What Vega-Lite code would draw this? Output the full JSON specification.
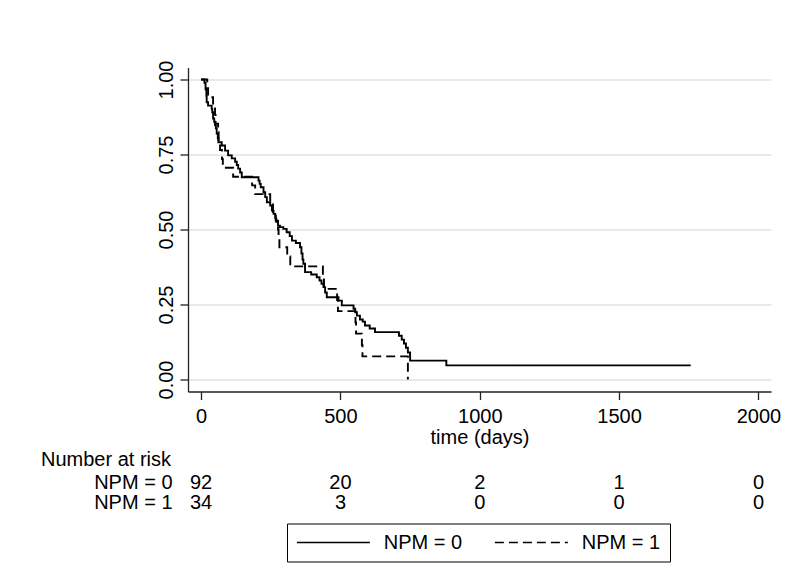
{
  "$schema": "https://vega.github.io/schema/vega-lite/v6.json",
  "background": "white",
  "padding": {"left": 41, "top": 59.5, "right": 5, "bottom": 5},
  "config": {
    "font": "Liberation Sans",
    "view": {"stroke": null},
    "axis": {"labelFont": "Liberation Sans", "titleFont": "Liberation Sans", "labelColor": "black", "titleColor": "black"}
  },
  "datasets": {
    "km": [
      {"group": "NPM = 0", "day": 0, "surv": 1.0},
      {"group": "NPM = 0", "day": 12, "surv": 0.989},
      {"group": "NPM = 0", "day": 16, "surv": 0.967},
      {"group": "NPM = 0", "day": 19, "surv": 0.946},
      {"group": "NPM = 0", "day": 20, "surv": 0.924},
      {"group": "NPM = 0", "day": 25, "surv": 0.913},
      {"group": "NPM = 0", "day": 38, "surv": 0.902},
      {"group": "NPM = 0", "day": 40, "surv": 0.891},
      {"group": "NPM = 0", "day": 43, "surv": 0.870},
      {"group": "NPM = 0", "day": 47, "surv": 0.859},
      {"group": "NPM = 0", "day": 50, "surv": 0.848},
      {"group": "NPM = 0", "day": 53, "surv": 0.837},
      {"group": "NPM = 0", "day": 56, "surv": 0.820},
      {"group": "NPM = 0", "day": 60, "surv": 0.804},
      {"group": "NPM = 0", "day": 62, "surv": 0.791},
      {"group": "NPM = 0", "day": 74, "surv": 0.780},
      {"group": "NPM = 0", "day": 86, "surv": 0.763},
      {"group": "NPM = 0", "day": 97, "surv": 0.747},
      {"group": "NPM = 0", "day": 110, "surv": 0.737},
      {"group": "NPM = 0", "day": 122, "surv": 0.726},
      {"group": "NPM = 0", "day": 128, "surv": 0.715},
      {"group": "NPM = 0", "day": 133, "surv": 0.703},
      {"group": "NPM = 0", "day": 140, "surv": 0.690},
      {"group": "NPM = 0", "day": 146, "surv": 0.674},
      {"group": "NPM = 0", "day": 206, "surv": 0.663},
      {"group": "NPM = 0", "day": 210, "surv": 0.652},
      {"group": "NPM = 0", "day": 214, "surv": 0.641},
      {"group": "NPM = 0", "day": 224, "surv": 0.624},
      {"group": "NPM = 0", "day": 230, "surv": 0.608},
      {"group": "NPM = 0", "day": 236, "surv": 0.591},
      {"group": "NPM = 0", "day": 248, "surv": 0.580},
      {"group": "NPM = 0", "day": 254, "surv": 0.563},
      {"group": "NPM = 0", "day": 260, "surv": 0.552},
      {"group": "NPM = 0", "day": 266, "surv": 0.537},
      {"group": "NPM = 0", "day": 270, "surv": 0.526},
      {"group": "NPM = 0", "day": 276, "surv": 0.513},
      {"group": "NPM = 0", "day": 283, "surv": 0.508},
      {"group": "NPM = 0", "day": 295, "surv": 0.502},
      {"group": "NPM = 0", "day": 307, "surv": 0.491},
      {"group": "NPM = 0", "day": 318, "surv": 0.478},
      {"group": "NPM = 0", "day": 326, "surv": 0.463},
      {"group": "NPM = 0", "day": 340, "surv": 0.455},
      {"group": "NPM = 0", "day": 355, "surv": 0.441},
      {"group": "NPM = 0", "day": 360, "surv": 0.420},
      {"group": "NPM = 0", "day": 364, "surv": 0.400},
      {"group": "NPM = 0", "day": 367, "surv": 0.386},
      {"group": "NPM = 0", "day": 373, "surv": 0.358},
      {"group": "NPM = 0", "day": 395, "surv": 0.350},
      {"group": "NPM = 0", "day": 415, "surv": 0.341},
      {"group": "NPM = 0", "day": 425, "surv": 0.330},
      {"group": "NPM = 0", "day": 432, "surv": 0.319},
      {"group": "NPM = 0", "day": 439, "surv": 0.308},
      {"group": "NPM = 0", "day": 445, "surv": 0.290},
      {"group": "NPM = 0", "day": 451, "surv": 0.274},
      {"group": "NPM = 0", "day": 493, "surv": 0.263},
      {"group": "NPM = 0", "day": 505, "surv": 0.247},
      {"group": "NPM = 0", "day": 547, "surv": 0.236},
      {"group": "NPM = 0", "day": 553, "surv": 0.224},
      {"group": "NPM = 0", "day": 559, "surv": 0.213},
      {"group": "NPM = 0", "day": 570, "surv": 0.200},
      {"group": "NPM = 0", "day": 580, "surv": 0.193},
      {"group": "NPM = 0", "day": 588, "surv": 0.180},
      {"group": "NPM = 0", "day": 605, "surv": 0.170},
      {"group": "NPM = 0", "day": 624, "surv": 0.158},
      {"group": "NPM = 0", "day": 710, "surv": 0.146},
      {"group": "NPM = 0", "day": 720, "surv": 0.133},
      {"group": "NPM = 0", "day": 728, "surv": 0.120},
      {"group": "NPM = 0", "day": 735, "surv": 0.106},
      {"group": "NPM = 0", "day": 742, "surv": 0.090},
      {"group": "NPM = 0", "day": 750, "surv": 0.063},
      {"group": "NPM = 0", "day": 880, "surv": 0.047},
      {"group": "NPM = 0", "day": 1757, "surv": 0.047},
      {"group": "NPM = 1", "day": 0, "surv": 1.0},
      {"group": "NPM = 1", "day": 22, "surv": 0.971},
      {"group": "NPM = 1", "day": 25, "surv": 0.941},
      {"group": "NPM = 1", "day": 43, "surv": 0.912},
      {"group": "NPM = 1", "day": 50, "surv": 0.882},
      {"group": "NPM = 1", "day": 52, "surv": 0.853},
      {"group": "NPM = 1", "day": 61, "surv": 0.824},
      {"group": "NPM = 1", "day": 63, "surv": 0.794},
      {"group": "NPM = 1", "day": 68, "surv": 0.765},
      {"group": "NPM = 1", "day": 75, "surv": 0.735},
      {"group": "NPM = 1", "day": 78, "surv": 0.706},
      {"group": "NPM = 1", "day": 115, "surv": 0.676},
      {"group": "NPM = 1", "day": 183, "surv": 0.647},
      {"group": "NPM = 1", "day": 194, "surv": 0.618},
      {"group": "NPM = 1", "day": 248, "surv": 0.588},
      {"group": "NPM = 1", "day": 258, "surv": 0.559},
      {"group": "NPM = 1", "day": 268, "surv": 0.529},
      {"group": "NPM = 1", "day": 276, "surv": 0.500},
      {"group": "NPM = 1", "day": 278, "surv": 0.470},
      {"group": "NPM = 1", "day": 281, "surv": 0.441},
      {"group": "NPM = 1", "day": 309, "surv": 0.410},
      {"group": "NPM = 1", "day": 320, "surv": 0.377},
      {"group": "NPM = 1", "day": 437, "surv": 0.340},
      {"group": "NPM = 1", "day": 441, "surv": 0.302},
      {"group": "NPM = 1", "day": 488, "surv": 0.265},
      {"group": "NPM = 1", "day": 491, "surv": 0.228},
      {"group": "NPM = 1", "day": 554, "surv": 0.190},
      {"group": "NPM = 1", "day": 556, "surv": 0.153},
      {"group": "NPM = 1", "day": 577, "surv": 0.115},
      {"group": "NPM = 1", "day": 579, "surv": 0.077},
      {"group": "NPM = 1", "day": 742, "surv": 0.0}
    ],
    "risk": [
      {"group": "NPM = 0", "day": 0, "n": 92},
      {"group": "NPM = 0", "day": 500, "n": 20},
      {"group": "NPM = 0", "day": 1000, "n": 2},
      {"group": "NPM = 0", "day": 1500, "n": 1},
      {"group": "NPM = 0", "day": 2000, "n": 0},
      {"group": "NPM = 1", "day": 0, "n": 34},
      {"group": "NPM = 1", "day": 500, "n": 3},
      {"group": "NPM = 1", "day": 1000, "n": 0},
      {"group": "NPM = 1", "day": 1500, "n": 0},
      {"group": "NPM = 1", "day": 2000, "n": 0}
    ]
  },
  "bounds": "flush",
  "spacing": 81,
  "resolve": {"scale": {"strokeDash": "independent"}, "legend": {"strokeDash": "independent"}},
  "vconcat": [
    {
      "width": 583,
      "height": 324,
      "data": {"name": "km"},
      "mark": {"type": "line", "interpolate": "step-after", "color": "black", "strokeWidth": 1.9},
      "encoding": {
        "x": {
          "field": "day", "type": "quantitative",
          "scale": {"domain": [-47, 2045], "nice": false, "zero": false},
          "axis": {
            "values": [0, 500, 1000, 1500, 2000], "format": "d", "title": "time (days)",
            "grid": false, "tickSize": 8, "labelPadding": 6.5, "labelFontSize": 20,
            "titleFontSize": 20, "titleFontWeight": "normal", "titlePadding": 1.5,
            "domainColor": "#222222", "tickColor": "#222222", "domainWidth": 1.3, "tickWidth": 1.3
          }
        },
        "y": {
          "field": "surv", "type": "quantitative",
          "scale": {"domain": [-0.04, 1.04], "nice": false, "zero": false},
          "axis": {
            "values": [0, 0.25, 0.5, 0.75, 1], "format": ".2f", "title": null,
            "grid": true, "gridColor": "#e2e2e2", "gridWidth": 1.5,
            "labelAngle": -90, "labelAlign": "center", "labelBaseline": "bottom",
            "tickSize": 8, "labelPadding": 4, "labelFontSize": 20,
            "domainColor": "#222222", "tickColor": "#222222", "domainWidth": 1.3, "tickWidth": 1.3
          }
        },
        "strokeDash": {
          "field": "group", "type": "nominal",
          "scale": {"domain": ["NPM = 0", "NPM = 1"], "range": [[1, 0], [9, 5]]},
          "legend": {
            "orient": "none", "legendX": 99, "legendY": 456, "direction": "horizontal",
            "title": null, "strokeColor": "black", "padding": 9,
            "symbolType": "M-1,0H7", "symbolSize": 333, "symbolStrokeWidth": 1.5,
            "symbolStrokeColor": "black", "labelFontSize": 20, "labelColor": "black",
            "labelFont": "Liberation Sans", "labelOffset": 67.75, "columnPadding": 28, "labelLimit": 200
          }
        }
      }
    },
    {
      "width": 583,
      "height": 40,
      "data": {"name": "risk"},
      "title": {
        "text": "Number at risk", "anchor": "start", "frame": "group", "dx": -147, "dy": 20.5,
        "fontSize": 20, "fontWeight": "normal", "color": "black", "baseline": "bottom",
        "offset": 3.5, "font": "Liberation Sans"
      },
      "mark": {"type": "text", "fontSize": 20, "color": "black", "font": "Liberation Sans"},
      "encoding": {
        "x": {
          "field": "day", "type": "quantitative",
          "scale": {"domain": [-47, 2045], "nice": false, "zero": false},
          "axis": null
        },
        "y": {
          "field": "group", "type": "nominal",
          "scale": {"domain": ["NPM = 0", "NPM = 1"]},
          "axis": {
            "title": null, "domain": false, "ticks": false, "tickSize": 0,
            "labelPadding": 16, "labelFontSize": 20, "labelColor": "black", "grid": false
          }
        },
        "text": {"field": "n", "type": "quantitative"}
      }
    }
  ]
}
